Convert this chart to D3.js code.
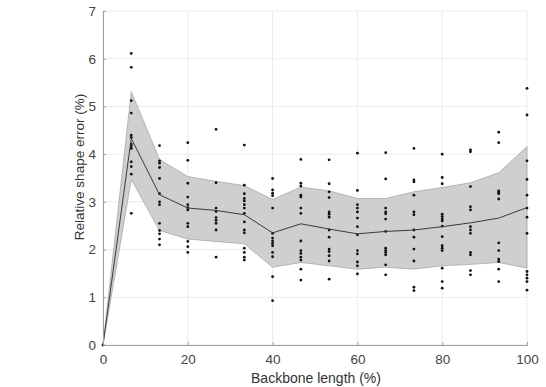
<!DOCTYPE html>
<html><head><meta charset="utf-8">
<script src="https://cdn.jsdelivr.net/npm/d3@7"></script>
<style>body{margin:0;background:#fff}svg{display:block}text{font-family:"Liberation Sans",Arial,sans-serif}</style>
</head><body>
<script>
const xPos = [0, 6.667, 13.333, 20, 26.667, 33.333, 40, 46.667, 53.333, 60, 66.667, 73.333, 80, 86.667, 93.333, 100];
const meanVals = [0, 4.33, 3.15, 2.87, 2.82, 2.73, 2.35, 2.54, 2.43, 2.33, 2.38, 2.41, 2.48, 2.56, 2.66, 2.88];
const upperVals = [0, 5.31, 3.89, 3.53, 3.43, 3.34, 3.05, 3.31, 3.23, 3.07, 3.07, 3.21, 3.30, 3.40, 3.61, 4.16];
const lowerVals = [0, 3.47, 2.40, 2.22, 2.17, 2.12, 1.63, 1.73, 1.66, 1.59, 1.63, 1.59, 1.66, 1.69, 1.73, 1.61];
const samples = [
  [0],
  [6.11, 5.82, 5.12, 4.86, 4.40, 4.35, 4.21, 4.17, 4.12, 3.84, 3.74, 3.58, 2.76],
  [4.18, 3.86, 3.81, 3.72, 3.49, 3.17, 3.00, 2.94, 2.55, 2.40, 2.33, 2.22, 2.10],
  [4.24, 3.87, 3.39, 3.10, 2.94, 2.88, 2.83, 2.55, 2.48, 2.17, 2.06, 1.94],
  [4.52, 3.40, 2.87, 2.80, 2.67, 2.61, 2.55, 2.41, 1.84],
  [4.19, 3.35, 3.17, 3.07, 3.02, 2.94, 2.87, 2.76, 2.58, 2.41, 2.35, 2.03, 1.94, 1.84, 1.78],
  [3.49, 3.25, 3.18, 3.13, 2.87, 2.34, 2.24, 2.18, 2.13, 2.08, 1.94, 1.85, 1.43, 0.93],
  [3.89, 3.39, 3.33, 3.14, 3.10, 2.87, 2.76, 2.18, 1.98, 1.92, 1.84, 1.78, 1.59, 1.36],
  [3.88, 3.38, 3.21, 3.09, 2.79, 2.74, 2.68, 2.41, 2.26, 2.01, 1.96, 1.87, 1.76, 1.38],
  [4.02, 3.24, 2.94, 2.87, 2.79, 2.66, 2.48, 2.31, 1.98, 1.91, 1.74, 1.66, 1.49],
  [4.03, 3.48, 2.87, 2.79, 2.75, 2.64, 2.38, 2.03, 1.98, 1.94, 1.89, 1.68, 1.47],
  [4.12, 3.46, 3.42, 3.14, 2.79, 2.73, 2.41, 2.26, 2.01, 1.76, 1.21, 1.14],
  [4.00, 3.51, 3.38, 2.74, 2.69, 2.64, 2.60, 2.49, 2.27, 2.08, 2.03, 1.98, 1.61, 1.33, 1.19],
  [4.09, 4.05, 3.32, 2.90, 2.83, 2.48, 2.41, 2.34, 1.94, 1.89, 1.56, 1.47],
  [4.46, 4.24, 3.23, 3.19, 3.21, 3.17, 3.06, 2.14, 1.98, 1.80, 1.75, 1.59, 1.33],
  [5.38, 4.82, 3.86, 3.47, 3.14, 2.87, 2.68, 2.34, 1.54, 1.47, 1.40, 1.33, 1.15]
];
const xTicks = [0, 20, 40, 60, 80, 100];
const yTicks = [0, 1, 2, 3, 4, 5, 6, 7];
const xLabel = "Backbone length (%)";
const yLabel = "Relative shape error (%)";

const W = 546, H = 387;
const m = {left: 103, right: 19, top: 11, bottom: 42};
const svg = d3.select("body").append("svg").attr("width", W).attr("height", H);
const x = d3.scaleLinear().domain([0, 100]).range([m.left, W - m.right]);
const y = d3.scaleLinear().domain([0, 7]).range([H - m.bottom, m.top]);

// grid
const g = svg.append("g");
g.selectAll(".gx").data(xTicks).join("line")
  .attr("x1", d => x(d)).attr("x2", d => x(d)).attr("y1", y(0)).attr("y2", y(7))
  .attr("stroke", "#ebebeb").attr("stroke-width", 1);
g.selectAll(".gy").data(yTicks).join("line")
  .attr("x1", x(0)).attr("x2", x(100)).attr("y1", d => y(d)).attr("y2", d => y(d))
  .attr("stroke", "#ebebeb").attr("stroke-width", 1);

const rows = xPos.map((v, i) => ({x: v, m: meanVals[i], u: upperVals[i], l: lowerVals[i]}));
const area = d3.area().x(d => x(d.x)).y0(d => y(d.l)).y1(d => y(d.u));
svg.append("path").datum(rows).attr("d", area)
  .attr("fill", "#cfcfcf").attr("stroke", "#a8a8a8").attr("stroke-width", 0.8);

// points
const pts = [];
samples.forEach((arr, i) => arr.forEach(v => pts.push({x: xPos[i], v})));
svg.append("g").selectAll("circle").data(pts).join("circle")
  .attr("cx", d => x(d.x)).attr("cy", d => y(d.v)).attr("r", 1.4).attr("fill", "#111");

// mean line
svg.append("path").datum(rows)
  .attr("d", d3.line().x(d => x(d.x)).y(d => y(d.m)))
  .attr("fill", "none").attr("stroke", "#3a3a3a").attr("stroke-width", 1);

// axes
const xa = svg.append("g").attr("transform", `translate(0,${y(0)})`)
  .call(d3.axisBottom(x).tickValues(xTicks).tickSize(-3).tickPadding(9).tickFormat(d3.format("d")));
const ya = svg.append("g").attr("transform", `translate(${x(0)},0)`)
  .call(d3.axisLeft(y).tickValues(yTicks).tickSize(-3).tickPadding(7).tickFormat(d3.format("d")));
[xa, ya].forEach(a => {
  a.select(".domain").attr("stroke", "#a0a0a0").attr("stroke-width", 1);
  a.selectAll(".tick line").attr("stroke", "#a0a0a0");
  a.selectAll(".tick text").attr("fill", "#444").attr("font-size", 13.5);
});

svg.append("text").attr("x", x(50) + 1).attr("y", 383).attr("text-anchor", "middle")
  .attr("font-size", 14).attr("fill", "#333").text(xLabel);
svg.append("text").attr("transform", `translate(84,167) rotate(-90)`).attr("text-anchor", "middle")
  .attr("font-size", 13.5).attr("fill", "#333").text(yLabel);
</script>
</body></html>
